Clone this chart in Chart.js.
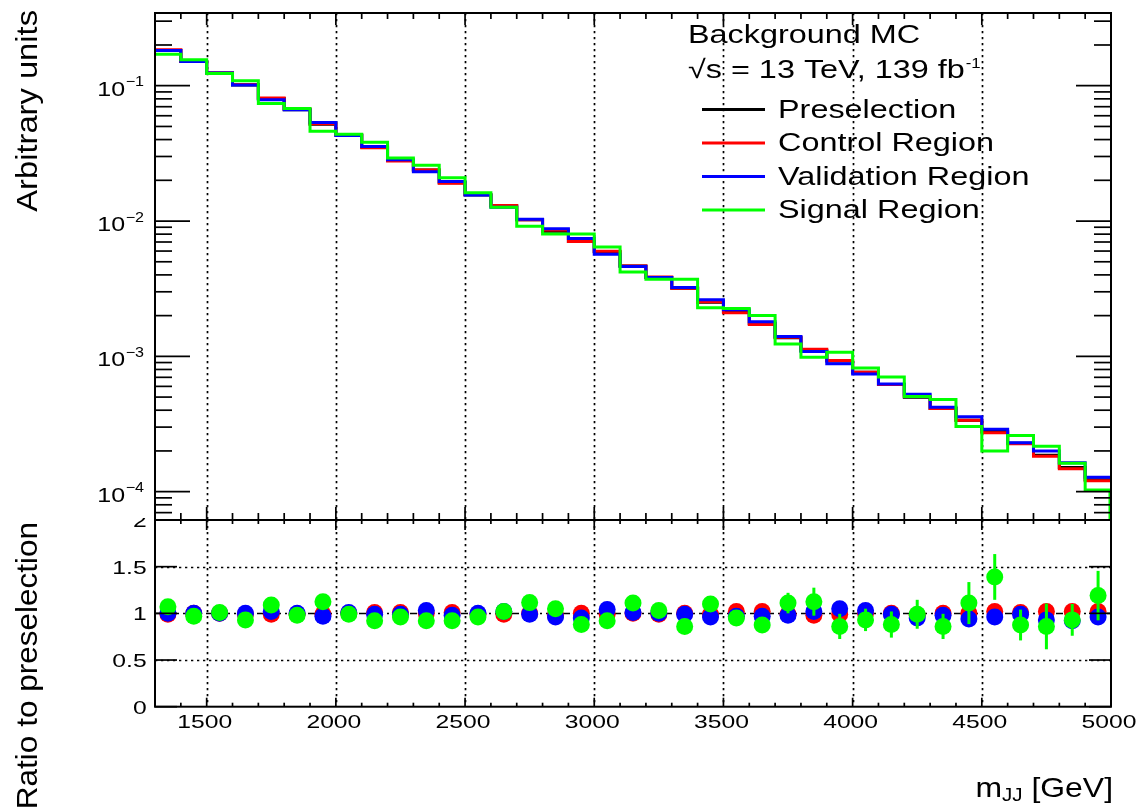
<!DOCTYPE html>
<html>
<head>
<meta charset="utf-8">
<title>m_JJ background MC</title>
<script src="https://cdn.jsdelivr.net/npm/chart.js@4.4.1/dist/chart.umd.min.js"></script>
<style>
  html, body { margin: 0; padding: 0; background: #fff; }
  #wrap { position: relative; width: 1141px; height: 807px; overflow: hidden; background: #fff; }
  #top-pad { position: absolute; left: 0; top: 0; }
  #ratio-pad { position: absolute; left: 0; top: 518px; }
</style>
</head>
<body>
<div id="wrap">
  <canvas id="top-pad" width="1141" height="524"></canvas>
  <canvas id="ratio-pad" width="1141" height="289"></canvas>
</div>
<script>
// Bin low edges in GeV (100 GeV bins), last bin ends at 5000
const binLow = [1300, 1400, 1500, 1600, 1700, 1800, 1900, 2000, 2100, 2200,
                2300, 2400, 2500, 2600, 2700, 2800, 2900, 3000, 3100, 3200,
                3300, 3400, 3500, 3600, 3700, 3800, 3900, 4000, 4100, 4200,
                4300, 4400, 4500, 4600, 4700, 4800, 4900];
const binHigh = 5000;

// Normalised distributions (arbitrary units)
const preselection = [0.1824, 0.1512, 0.1241, 0.1012, 0.0804, 0.0665, 0.0519, 0.0433, 0.0352, 0.0281,
                      0.0238, 0.0192, 0.01555, 0.0129, 0.01021, 0.00841, 0.00706, 0.00592, 0.00466, 0.00382,
                      0.00319, 0.00251, 0.00214, 0.00175, 0.001372, 0.001107, 0.000924, 0.000764, 0.000619, 0.000499,
                      0.000412, 0.000337, 0.000278, 0.000228, 0.000186, 0.0001507, 0.0001227];
const controlRegion = [0.1842, 0.1512, 0.1241, 0.1022, 0.0812, 0.0672, 0.0524, 0.0433, 0.03485, 0.02782,
                       0.0238, 0.01901, 0.01571, 0.01303, 0.01021, 0.00858, 0.00706, 0.00598, 0.00466, 0.00386,
                       0.00319, 0.002535, 0.002098, 0.001716, 0.001386, 0.00113, 0.000933, 0.000764, 0.000619, 0.000509,
                       0.000412, 0.000337, 0.0002725, 0.0002257, 0.0001824, 0.0001477, 0.0001203];
const validationRegion = [0.1824, 0.1512, 0.1241, 0.1012, 0.0788, 0.0665, 0.0535, 0.04287, 0.03556, 0.02838,
                          0.02311, 0.01959, 0.01555, 0.01265, 0.01031, 0.00876, 0.00743, 0.00569, 0.004614, 0.00382,
                          0.003222, 0.002615, 0.002206, 0.001804, 0.0014, 0.001085, 0.00088, 0.000742, 0.000625, 0.000525,
                          0.00042, 0.0003585, 0.0002896, 0.0002303, 0.0002, 0.0001638, 0.0001278];
const signalRegion = [0.1705, 0.1559, 0.1229, 0.1088, 0.07376, 0.06786, 0.04613, 0.04374, 0.03826, 0.02927,
                      0.02587, 0.02087, 0.0162, 0.01265, 0.009157, 0.00801, 0.008023, 0.006435, 0.004198, 0.003709,
                      0.003709, 0.002282, 0.002253, 0.002, 0.001236, 0.000984, 0.001074, 0.0008215, 0.0007034, 0.000504,
                      0.000479, 0.0003036, 0.0002, 0.0002606, 0.0002163, 0.000162, 0.0001031];

// Ratio panel values
const ratioControl = [0.99, 1.00, 1.00, 0.99, 0.99, 0.99, 0.99, 1.00, 1.01, 1.01,
                      1.00, 1.01, 0.99, 0.99, 1.00, 0.98, 1.00, 0.99, 1.00, 0.99,
                      1.00, 0.99, 1.02, 1.02, 0.99, 0.98, 0.99, 1.00, 1.00, 0.98,
                      1.00, 1.00, 1.02, 1.01, 1.02, 1.02, 1.02];
const ratioValidation = [1.00, 1.00, 1.00, 1.00, 1.02, 1.00, 0.97, 1.01, 0.99, 0.99,
                         1.03, 0.98, 1.00, 1.02, 0.99, 0.96, 0.95, 1.04, 1.01, 1.00,
                         0.99, 0.96, 0.97, 0.97, 0.98, 1.02, 1.05, 1.03, 0.99, 0.95,
                         0.98, 0.94, 0.96, 0.99, 0.93, 0.92, 0.96];
const ratioSignal = [1.07, 0.97, 1.01, 0.93, 1.09, 0.98, 1.125, 0.99, 0.92, 0.96,
                     0.92, 0.92, 0.96, 1.02, 1.115, 1.05, 0.88, 0.92, 1.11, 1.03,
                     0.86, 1.10, 0.95, 0.875, 1.11, 1.125, 0.86, 0.93, 0.88, 0.99,
                     0.86, 1.11, 1.39, 0.875, 0.86, 0.93, 1.19];
const ratioSignalErr = [0.02, 0.02, 0.02, 0.02, 0.02, 0.03, 0.03, 0.03, 0.03, 0.03,
                        0.04, 0.04, 0.04, 0.04, 0.05, 0.05, 0.05, 0.06, 0.06, 0.06,
                        0.07, 0.07, 0.07, 0.08, 0.11, 0.15, 0.135, 0.12, 0.14, 0.155,
                        0.135, 0.225, 0.245, 0.165, 0.245, 0.17, 0.265];

// Axes
const xMajor = [1500, 2000, 2500, 3000, 3500, 4000, 4500, 5000];
const xTickLabels = ['1500', '2000', '2500', '3000', '3500', '4000', '4500', '5000'];
const logTickExps = [-1, -2, -3, -4];
const ratioTicks = [0, 0.5, 1, 1.5, 2];
const ratioTickLabels = ['0', '0.5', '1', '1.5', '2'];

const seriesNames = ['Preselection', 'Control Region', 'Validation Region', 'Signal Region'];
const seriesColors = ['#000000', '#ff0000', '#0000ff', '#00ff00'];

const yMin = 6.175e-5;
const yMax = 0.3447;
const FONT = '"Liberation Sans", Arial, Helvetica, sans-serif';

// Helpers
function histPoints(vals) {
    const pts = binLow.map((x, i) => ({ x: x, y: vals[i] }));
    pts.push({ x: binHigh, y: vals[vals.length - 1] });
    return pts;
}

function ratioPoints(vals) {
    return binLow.map((x, i) => {
        const hi = i + 1 < binLow.length ? binLow[i + 1] : binHigh;
        return { x: (x + hi) / 2, y: vals[i] };
    });
}

// ROOT text is a bit wider than Liberation Sans, so stretch horizontally
function drawText(ctx, str, x, y, size, sx, align) {
    ctx.save();
    ctx.font = size + 'px ' + FONT;
    ctx.textBaseline = 'alphabetic';
    ctx.textAlign = 'left';
    const w = ctx.measureText(str).width * sx;
    let x0 = x;
    if (align === 'right') x0 = x - w;
    else if (align === 'center') x0 = x - w / 2;
    ctx.translate(x0, y);
    ctx.scale(sx, 1);
    ctx.fillStyle = '#000';
    ctx.fillText(str, 0, 0);
    ctx.restore();
    return w;
}

function textWidth(ctx, str, size, sx) {
    ctx.save();
    ctx.font = size + 'px ' + FONT;
    const w = ctx.measureText(str).width * sx;
    ctx.restore();
    return w;
}

// vertical title, reading bottom to top, its end at (x, yEnd)
function drawVerticalTitle(ctx, str, x, yEnd, size, sx) {
    ctx.save();
    ctx.translate(x, yEnd);
    ctx.rotate(-Math.PI / 2);
    ctx.scale(sx, 1);
    ctx.font = size + 'px ' + FONT;
    ctx.textAlign = 'right';
    ctx.textBaseline = 'alphabetic';
    ctx.fillStyle = '#000';
    ctx.fillText(str, 0, 0);
    ctx.restore();
}

function line(ctx, x1, y1, x2, y2) {
    ctx.beginPath();
    ctx.moveTo(x1, y1);
    ctx.lineTo(x2, y2);
    ctx.stroke();
}

function dottedVerticals(chart) {
    const ctx = chart.ctx;
    const ca = chart.chartArea;
    const xs = chart.scales.x;
    ctx.save();
    ctx.strokeStyle = '#000';
    ctx.lineWidth = 1.7;
    ctx.setLineDash([2.3, 3.7]);
    xMajor.forEach(v => {
        if (v >= binHigh) return;
        const px = Math.round(xs.getPixelForValue(v)) + 0.5;
        line(ctx, px, ca.top, px, ca.bottom);
    });
    ctx.restore();
}

// log minor tick positions within range
const logMinor = [];
for (let e = -5; e <= -1; e++) {
    for (let m = 2; m <= 9; m++) {
        const v = m * Math.pow(10, e);
        if (v > yMin && v < yMax) logMinor.push(v);
    }
}

const topPadPlugin = {
    id: 'topPad',
    beforeDatasetsDraw(chart) {
        dottedVerticals(chart);
    },
    afterDatasetsDraw(chart) {
        const ctx = chart.ctx;
        const ca = chart.chartArea;
        const xs = chart.scales.x;
        const ys = chart.scales.y;
        ctx.save();

        // signal histogram falls off at the right edge
        ctx.strokeStyle = seriesColors[3];
        ctx.lineWidth = 3;
        line(ctx, ca.right - 1, ys.getPixelForValue(signalRegion[signalRegion.length - 1]), ca.right - 1, ca.bottom);

        // frame
        ctx.strokeStyle = '#000';
        ctx.lineWidth = 2;
        ctx.strokeRect(ca.left, ca.top, ca.right - ca.left, ca.bottom - ca.top);

        // ticks, pointing inwards
        ctx.lineWidth = 1.7;
        binLow.slice(1).forEach(v => {
            const px = xs.getPixelForValue(v);
            const major = xMajor.includes(v);
            line(ctx, px, ca.bottom, px, ca.bottom - (major ? 13 : 7));
            line(ctx, px, ca.top, px, ca.top + (major ? 12 : 6));
        });
        logTickExps.forEach(e => {
            const py = ys.getPixelForValue(Math.pow(10, e));
            line(ctx, ca.left, py, ca.left + 35, py);
            line(ctx, ca.right, py, ca.right - 35, py);
        });
        logMinor.forEach(v => {
            const py = ys.getPixelForValue(v);
            line(ctx, ca.left, py, ca.left + 17, py);
            line(ctx, ca.right, py, ca.right - 17, py);
        });

        // log tick labels 10^n
        logTickExps.forEach(e => {
            const py = ys.getPixelForValue(Math.pow(10, e));
            const sup = '\u2212' + String(-e);
            const supW = textWidth(ctx, sup, 14, 1.15);
            const right = 144;
            drawText(ctx, sup, right, py + 0.5, 14, 1.15, 'right');
            drawText(ctx, '10', right - supW - 0.5, py + 10, 20.5, 1.22, 'right');
        });

        // y title
        drawVerticalTitle(ctx, 'Arbitrary units', 36.7, 10, 30, 1.09);

        // annotation
        drawText(ctx, 'Background MC', 688, 43.3, 25.5, 1.27, 'left');
        const w = drawText(ctx, '\u221As = 13 TeV, 139 fb', 688, 78.3, 25.5, 1.27, 'left');
        drawText(ctx, '-1', 688 + w + 1, 67.5, 14, 1.2, 'left');

        // legend
        seriesNames.forEach((name, i) => {
            const ly = 109.5 + 33.5 * i;
            ctx.strokeStyle = seriesColors[i];
            ctx.lineWidth = 3;
            line(ctx, 702, ly, 765, ly);
            drawText(ctx, name, 778, ly + 8, 25.5, 1.27, 'left');
        });

        ctx.restore();
    }
};

const ratioPadPlugin = {
    id: 'ratioPad',
    beforeDatasetsDraw(chart) {
        const ctx = chart.ctx;
        const ca = chart.chartArea;
        const ys = chart.scales.y;
        dottedVerticals(chart);
        ctx.save();
        ctx.strokeStyle = '#000';
        ctx.lineWidth = 1.7;
        ctx.setLineDash([2.3, 3.7]);
        [0.5, 1.5].forEach(v => {
            const py = Math.round(ys.getPixelForValue(v)) + 0.5;
            line(ctx, ca.left, py, ca.right, py);
        });
        ctx.setLineDash([7, 4, 2, 4]);
        ctx.lineWidth = 1.5;
        const p1 = Math.round(ys.getPixelForValue(1)) + 0.5;
        line(ctx, ca.left, p1, ca.right, p1);
        ctx.restore();
    },
    afterDatasetDraw(chart, args) {
        // signal error bars go over the other markers but under the signal markers
        if (args.index !== 1) return;
        const ctx = chart.ctx;
        const ys = chart.scales.y;
        const xs = chart.scales.x;
        const pts = ratioPoints(ratioSignal);
        ctx.save();
        ctx.strokeStyle = seriesColors[3];
        ctx.lineWidth = 3;
        pts.forEach((p, i) => {
            const px = xs.getPixelForValue(p.x);
            line(ctx, px, ys.getPixelForValue(p.y - ratioSignalErr[i]), px, ys.getPixelForValue(p.y + ratioSignalErr[i]));
        });
        ctx.restore();
    },
    afterDatasetsDraw(chart) {
        const ctx = chart.ctx;
        const ca = chart.chartArea;
        const xs = chart.scales.x;
        const ys = chart.scales.y;
        ctx.save();

        ctx.strokeStyle = '#000';
        ctx.lineWidth = 2;
        ctx.strokeRect(ca.left, ca.top, ca.right - ca.left, ca.bottom - ca.top);

        ctx.lineWidth = 1.7;
        binLow.slice(1).forEach(v => {
            const px = xs.getPixelForValue(v);
            const major = xMajor.includes(v);
            line(ctx, px, ca.bottom, px, ca.bottom - (major ? 9 : 4));
            line(ctx, px, ca.top, px, ca.top + (major ? 10 : 4));
        });
        ratioTicks.forEach(v => {
            const py = ys.getPixelForValue(v);
            line(ctx, ca.left, py, ca.left + 22, py);
            line(ctx, ca.right, py, ca.right - 22, py);
        });

        // tick labels
        xMajor.forEach((v, i) => {
            drawText(ctx, xTickLabels[i], xs.getPixelForValue(v) - 2, 728 - 518, 19, 1.3, 'center');
        });
        ratioTicks.forEach((v, i) => {
            drawText(ctx, ratioTickLabels[i], 146.7, ys.getPixelForValue(v) + 7, 19, 1.3, 'right');
        });

        // titles (the y title runs past the pad edge and gets cut, as in the original)
        drawVerticalTitle(ctx, 'Ratio to preselection', 36.7, 522 - 518, 30, 1.05);

        const base = 797 - 518;
        const wTail = textWidth(ctx, ' [GeV]', 28, 1.14);
        const wSub = textWidth(ctx, 'JJ', 18, 1.14);
        const xEnd = 1113;
        drawText(ctx, ' [GeV]', xEnd, base, 28, 1.14, 'right');
        drawText(ctx, 'JJ', xEnd - wTail, base + 4, 18, 1.14, 'right');
        drawText(ctx, 'm', xEnd - wTail - wSub, base, 28, 1.14, 'right');

        ctx.restore();
    }
};

// Upper pad: step histograms on a log scale
const histSeries = [preselection, controlRegion, validationRegion, signalRegion];
new Chart(document.getElementById('top-pad'), {
    type: 'line',
    data: {
        datasets: histSeries.map((vals, i) => ({
            label: seriesNames[i],
            data: histPoints(vals),
            borderColor: seriesColors[i],
            backgroundColor: seriesColors[i],
            borderWidth: 3,
            stepped: 'before',
            pointRadius: 0,
            fill: false,
            order: histSeries.length - i
        }))
    },
    options: {
        responsive: false,
        animation: false,
        events: [],
        layout: { autoPadding: false, padding: { left: 155, right: 30, top: 13, bottom: 4 } },
        plugins: { legend: { display: false }, tooltip: { enabled: false } },
        scales: {
            x: { type: 'linear', min: binLow[0], max: binHigh, display: false },
            y: { type: 'logarithmic', min: yMin, max: yMax, display: false }
        }
    },
    plugins: [topPadPlugin]
});

// Lower pad: ratios as markers
const ratioSeries = [ratioControl, ratioValidation, ratioSignal];
new Chart(document.getElementById('ratio-pad'), {
    type: 'scatter',
    data: {
        datasets: ratioSeries.map((vals, i) => ({
            label: seriesNames[i + 1],
            data: ratioPoints(vals),
            backgroundColor: seriesColors[i + 1],
            borderColor: seriesColors[i + 1],
            borderWidth: 0,
            pointRadius: 8.5,
            pointStyle: 'circle',
            order: ratioSeries.length - i
        }))
    },
    options: {
        responsive: false,
        animation: false,
        events: [],
        layout: { autoPadding: false, padding: { left: 155, right: 30, top: 2, bottom: 100.3 } },
        plugins: { legend: { display: false }, tooltip: { enabled: false } },
        scales: {
            x: { type: 'linear', min: binLow[0], max: binHigh, display: false },
            y: { type: 'linear', min: 0, max: 2, display: false }
        }
    },
    plugins: [ratioPadPlugin]
});
</script>
</body>
</html>
